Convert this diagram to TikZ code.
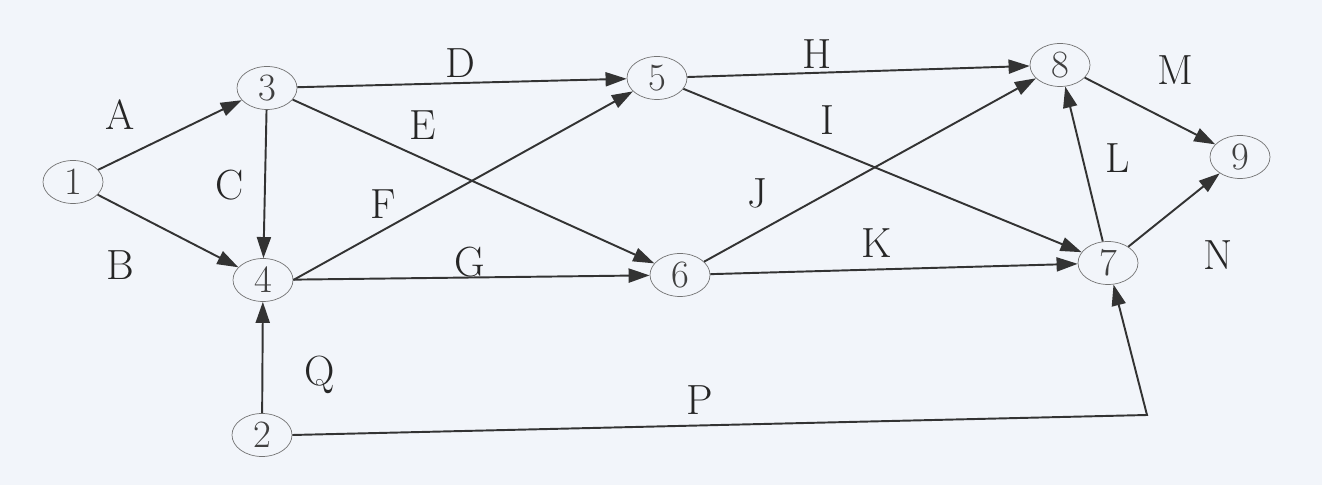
\documentclass[tikz,border=0pt]{standalone}
\usetikzlibrary{arrows.meta,shapes.geometric}

\begin{document}
\begin{tikzpicture}[
    event/.style={draw=black!55, ellipse, minimum width=1.2cm, minimum height=0.86cm, inner sep=0pt, font=\fontsize{22}{24}\selectfont, text=black!75},
    act/.style={font=\fontsize{24}{28}\selectfont, text=black!85},
    arr/.style={-{Triangle[length=12pt, width=8pt]}, line width=1.1pt, draw=black!80}
]
\fill[fill={rgb,255:red,242;green,245;blue,250}] (0,0) rectangle (26.44,9.7);
\useasboundingbox (0,0) rectangle (26.44,9.7);

\node[event] (n1) at (1.46,6.06) {1};
\node[event] (n3) at (5.34,7.94) {3};
\node[event] (n4) at (5.26,4.10) {4};
\node[event] (n2) at (5.24,1.00) {2};
\node[event] (n5) at (13.14,8.14) {5};
\node[event] (n6) at (13.60,4.20) {6};
\node[event] (n8) at (21.20,8.40) {8};
\node[event] (n7) at (22.16,4.44) {7};
\node[event] (n9) at (24.80,6.56) {9};
\coordinate (bend) at (22.94,1.40);

\node[act] (lA) at (2.40,7.40) {A};
\node[act] (lB) at (2.40,4.40) {B};
\node[act] (lC) at (4.60,6.00) {C};
\node[act] (lD) at (9.20,8.44) {D};
\node[act] (lE) at (8.46,7.20) {E};
\node[act] (lF) at (7.66,5.62) {F};
\node[act] (lG) at (9.40,4.46) {G};
\node[act] (lH) at (16.34,8.62) {H};
\node[act] (lI) at (16.54,7.30) {I};
\node[act] (lJ) at (15.14,5.84) {J};
\node[act] (lK) at (17.54,4.84) {K};
\node[act] (lL) at (22.36,6.54) {L};
\node[act] (lM) at (23.50,8.30) {M};
\node[act] (lN) at (24.36,4.60) {N};
\node[act] (lQ) at (6.40,2.20) {Q};
\node[act] (lP) at (14.00,1.70) {P};

\draw[arr] (n1) -- (n3);
\draw[arr] (n1) -- (n4);
\draw[arr] (n3) -- (n4);
\draw[arr] (n3) -- (n5);
\draw[arr] (n3) -- (n6);
\draw[arr] (n4.east) -- (n5);
\draw[arr] (n4) -- (n6);
\draw[arr] (n2) -- (n4);
\draw[arr] (n5) -- (n8);
\draw[arr] (n5) -- (n7);
\draw[arr] (n6) -- (n8);
\draw[arr] (n6) -- (n7);
\draw[arr] (n7) -- (n8);
\draw[arr] (n8) -- (n9);
\draw[arr] (n7) -- (n9);
\draw[arr] (n2.east) -- (bend) -- (n7);
\end{tikzpicture}
\end{document}
